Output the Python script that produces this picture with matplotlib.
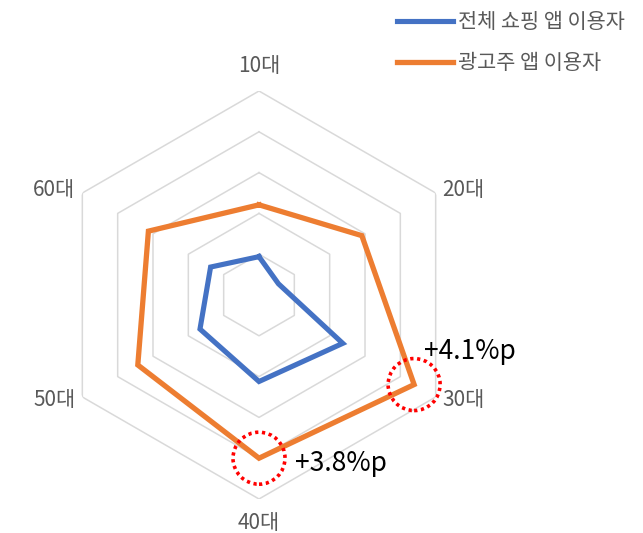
import numpy as np
import matplotlib.pyplot as plt
from matplotlib.patches import Circle
from matplotlib.transforms import ScaledTranslation

plt.rcParams['font.family'] = ['Noto Sans CJK KR', 'DejaVu Sans']

# 데이터
categories = ['10대', '20대', '30대', '40대', '50대', '60대']
all_users = [9.4, 5.5, 23.7, 21.2, 16.7, 13.7]
ad_users = [22.1, 29.1, 43.9, 40.0, 34.3, 31.3]
series_names = ['전체 쇼핑 앱 이용자', '광고주 앱 이용자']
grid_levels = [10, 20, 30, 40, 50]
notes = {'30대': '+4.1%p', '40대': '+3.8%p'}

blue = '#4472C4'
orange = '#ED7D31'

theta = np.linspace(0, 2 * np.pi, len(categories), endpoint=False)
closed = np.append(theta, theta[0])

fig = plt.figure(figsize=(6.43, 5.33), dpi=100)
ax = fig.add_axes([55 / 643, 34 / 533, 408 / 643, 408 / 533], projection='polar')
ax.set_theta_offset(np.pi / 2)
ax.set_theta_direction(-1)
ax.set_ylim(0, 50)
ax.set_frame_on(False)
ax.grid(False)
ax.set_xticks([])
ax.set_yticks([])

# 육각형 그리드
for lv in grid_levels:
    ax.plot(closed, [lv] * len(closed), color='#D9D9D9', lw=1.1, zorder=1)

# 시리즈
ax.plot(closed, all_users + all_users[:1], color=blue, lw=3.7,
        solid_joinstyle='miter', label=series_names[0], zorder=3)
ax.plot(closed, ad_users + ad_users[:1], color=orange, lw=3.8,
        solid_joinstyle='miter', label=series_names[1], zorder=3)

# 축 라벨
label_pos = {
    '10대': ((0, 18), 'center', 'center'),
    '20대': ((5, 2), 'left', 'center'),
    '30대': ((5, -2), 'left', 'center'),
    '40대': ((0, -17), 'center', 'center'),
    '50대': ((-5, -2), 'right', 'center'),
    '60대': ((-5, 2), 'right', 'center'),
}
for t, c in zip(theta, categories):
    off, ha, va = label_pos[c]
    ax.annotate(c, (t, 50), xytext=off, textcoords='offset points',
                ha=ha, va=va, fontsize=15, color='#595959', annotation_clip=False)

# 강조 원 + 증가폭
text_off = {'30대': (7, 24), '40대': (26, -4)}
for t, c, v in zip(theta, categories, ad_users):
    if c in notes:
        circ = Circle((0, 0), 0.26, transform=fig.dpi_scale_trans + ScaledTranslation(t, v, ax.transData),
                      fill=False, ec='red', lw=2.6, ls=(0, (0.9, 1.0)), zorder=4, clip_on=False)
        ax.add_artist(circ)
        ax.annotate(notes[c], (t, v), xytext=text_off[c], textcoords='offset points',
                    ha='left', va='center', fontsize=19, color='black', annotation_clip=False)

fig.legend(loc='upper left', bbox_to_anchor=(389 / 643, 1 - 2.5 / 533), frameon=False,
           borderaxespad=0, fontsize=15, handlelength=2.65, handletextpad=0.28,
           labelspacing=0.92, labelcolor='#595959')

fig.savefig('out.png', dpi=100)
